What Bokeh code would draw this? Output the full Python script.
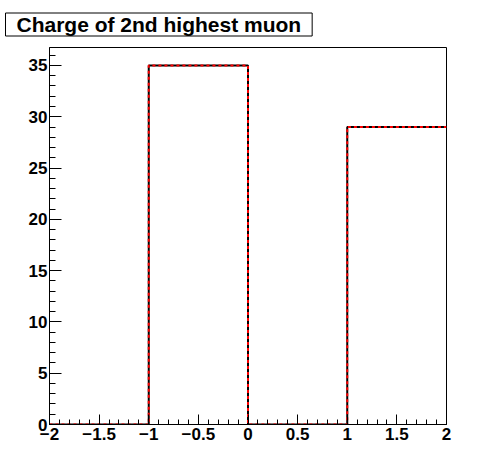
from bokeh.plotting import figure
from bokeh.models import SingleIntervalTicker, Range1d
from bokeh.embed import file_html
from bokeh.resources import INLINE

# data
bin_edges = [-2, -1, 0, 1, 2]
counts = [0, 35, 0, 29]
title_text = "Charge of 2nd highest muon"

W, H = 488, 464
p = figure(width=W, height=H, output_backend="svg", toolbar_location=None,
           x_range=Range1d(-2, 2), y_range=Range1d(0, 36.75),
           min_border_left=49, min_border_right=42, min_border_top=47, min_border_bottom=40)
p.background_fill_color = "white"
p.border_fill_color = "white"
p.outline_line_color = "black"
p.outline_line_width = 1
p.xgrid.visible = False
p.ygrid.visible = False

for ax, interval in ((p.xaxis[0], 0.5), (p.yaxis[0], 5)):
    ax.ticker = SingleIntervalTicker(interval=interval, num_minor_ticks=5)
    ax.major_tick_out = 0
    ax.minor_tick_out = 0
    ax.major_label_text_font = "Liberation Sans"
    ax.major_label_text_font_style = "bold"
    ax.major_label_text_font_size = "17px"
    ax.major_label_text_color = "black"
    ax.axis_line_color = "black"
    ax.major_tick_line_color = "black"
    ax.minor_tick_line_color = "black"

p.xaxis[0].major_tick_in = 10
p.xaxis[0].minor_tick_in = 5
p.xaxis[0].major_label_standoff = 3
p.yaxis[0].major_tick_in = 12
p.yaxis[0].minor_tick_in = 6
p.yaxis[0].major_label_standoff = 2

xs = bin_edges
ys = counts + [counts[-1]]
p.step(xs, ys, mode="after", line_color="black", line_width=2)
p.step(xs, ys, mode="after", line_color="red", line_width=2, line_dash="3 3")

t = p.title
t.text = title_text
t.text_font = "Liberation Sans"
t.text_font_style = "bold"
t.text_font_size = "21px"
t.text_color = "black"
t.align = "left"
t.vertical_align = "top"
t.offset = -44
t.standoff = 19
t.border_line_color = "black"
t.border_line_width = 1
t.background_fill_color = "white"
t.padding = (11, 0)

open("out.html", "w").write(file_html(p, INLINE))
